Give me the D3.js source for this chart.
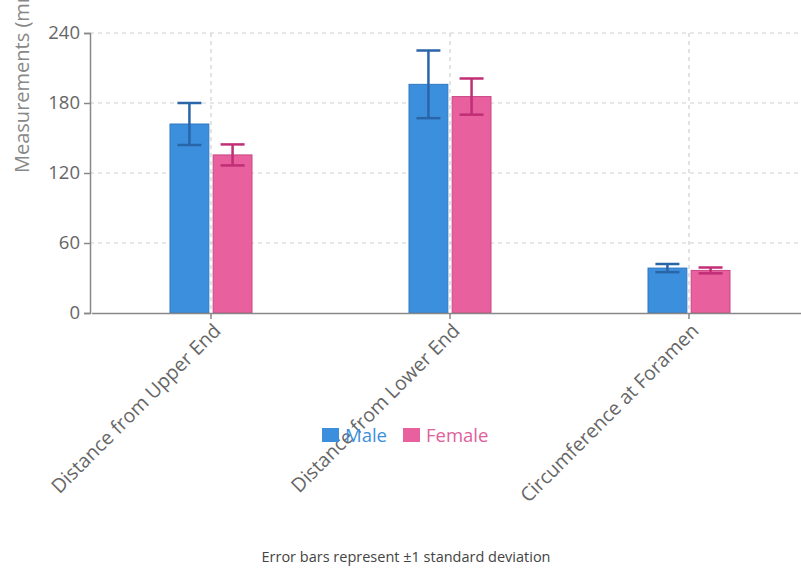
<!DOCTYPE html>
<html><head><meta charset="utf-8">
<script src="https://cdn.jsdelivr.net/npm/d3@7"></script>
<style>body{margin:0;background:#fff;overflow:hidden}svg{display:block;font-family:"Open Sans",sans-serif}</style>
</head><body><svg id="c" width="801" height="570"></svg>
<script>
const categories = ["Distance from Upper End", "Distance from Lower End", "Circumference at Foramen"];
const seriesNames = ["Male", "Female"];
const maleMeans = [162, 196, 38.5];
const maleSD = [18, 29, 3.5];
const femaleMeans = [135.5, 185.5, 36.5];
const femaleSD = [9, 15.5, 2.5];
const yTicks = [0, 60, 120, 180, 240];

const colors = {Male:{fill:"#3c8fdd",stroke:"#2f77c2",err:"#2a65a8",text:"#3c8fdd"},
                Female:{fill:"#e8609e",stroke:"#c94683",err:"#c02e76",text:"#e0609c"}};
const data = categories.map((c,i)=>({cat:c, vals:[
  {s:"Male", m:maleMeans[i], sd:maleSD[i]},
  {s:"Female", m:femaleMeans[i], sd:femaleSD[i]}]}));

const svg = d3.select("#c");
const x = d3.scaleBand().domain(categories).range([91.5, 808.5]).padding(0);
const x1 = d3.scaleBand().domain(seriesNames).range([-41, 41]).paddingInner(0.1);
const y = d3.scaleLinear().domain([0,240]).range([313,33]);

// grid
svg.append("g").selectAll("line.h").data(yTicks.filter(d=>d>0)).join("line")
  .attr("x1",90).attr("x2",801).attr("y1",d=>y(d)).attr("y2",d=>y(d))
  .attr("stroke","#d0d0d0").attr("stroke-width",1.2).attr("stroke-dasharray","4,4");
svg.append("g").selectAll("line.v").data(categories).join("line")
  .attr("x1",d=>x(d)+x.bandwidth()/2).attr("x2",d=>x(d)+x.bandwidth()/2)
  .attr("y1",33).attr("y2",313)
  .attr("stroke","#d0d0d0").attr("stroke-width",1.2).attr("stroke-dasharray","4,4");

// bars
const g = svg.append("g").selectAll("g").data(data).join("g")
  .attr("transform",d=>`translate(${x(d.cat)+x.bandwidth()/2},0)`);
g.selectAll("rect").data(d=>d.vals).join("rect")
  .attr("x",d=>x1(d.s)).attr("width",x1.bandwidth())
  .attr("y",d=>y(d.m)).attr("height",d=>y(0)-y(d.m))
  .attr("fill",d=>colors[d.s].fill).attr("stroke",d=>colors[d.s].stroke).attr("stroke-width",1);
const eb = g.selectAll("g.eb").data(d=>d.vals).join("g").attr("class","eb")
  .attr("stroke",d=>colors[d.s].err).attr("stroke-width",2.5);
eb.append("line").attr("x1",d=>x1(d.s)+x1.bandwidth()/2).attr("x2",d=>x1(d.s)+x1.bandwidth()/2)
  .attr("y1",d=>y(d.m+d.sd)).attr("y2",d=>y(d.m-d.sd));
eb.append("line").attr("x1",d=>x1(d.s)+x1.bandwidth()/2-12).attr("x2",d=>x1(d.s)+x1.bandwidth()/2+12)
  .attr("y1",d=>y(d.m+d.sd)).attr("y2",d=>y(d.m+d.sd));
eb.append("line").attr("x1",d=>x1(d.s)+x1.bandwidth()/2-12).attr("x2",d=>x1(d.s)+x1.bandwidth()/2+12)
  .attr("y1",d=>y(d.m-d.sd)).attr("y2",d=>y(d.m-d.sd));

// y axis
const ya = svg.append("g").attr("transform","translate(90,0)")
  .call(d3.axisLeft(y).tickValues(yTicks).tickSize(6).tickPadding(4));
ya.select(".domain").attr("stroke","#888").attr("stroke-width",1.5);
ya.selectAll(".tick line").attr("stroke","#888").attr("stroke-width",1.5);
ya.selectAll("text").attr("font-size",18.5).attr("fill","#666").attr("font-family","Open Sans");

// x axis
const xa = svg.append("g").attr("transform","translate(0,313)")
  .call(d3.axisBottom(x).tickSize(6).tickSizeOuter(0));
xa.select(".domain").attr("stroke","#888").attr("stroke-width",1.5);
xa.selectAll(".tick line").attr("stroke","#888").attr("stroke-width",1.5);
xa.selectAll("text").attr("font-size",19.5).attr("fill","#666").attr("font-family","Open Sans")
  .attr("text-anchor","end").attr("y",0).attr("dy",0)
  .attr("transform","translate(11,19) rotate(-45)");

// y title
svg.append("text").attr("transform","translate(29,173) rotate(-90)")
  .attr("text-anchor","start").attr("font-size",20).attr("fill","#888").text("Measurements (mm)");

// legend
const leg = svg.append("g").attr("transform","translate(322,0)");
const li = leg.selectAll("g").data(seriesNames).join("g").attr("transform",(d,i)=>`translate(${i*81},0)`);
li.append("rect").attr("x",0).attr("y",428).attr("width",17).attr("height",14).attr("fill",d=>colors[d].fill);
li.append("text").attr("x",23).attr("y",442).attr("font-size",18.5).attr("fill",d=>colors[d].text).text(d=>d);

// footnote
svg.append("text").attr("x",406).attr("y",562).attr("text-anchor","middle").attr("font-size",14.5).attr("fill","#444")
  .text("Error bars represent ±1 standard deviation");
</script></body></html>
